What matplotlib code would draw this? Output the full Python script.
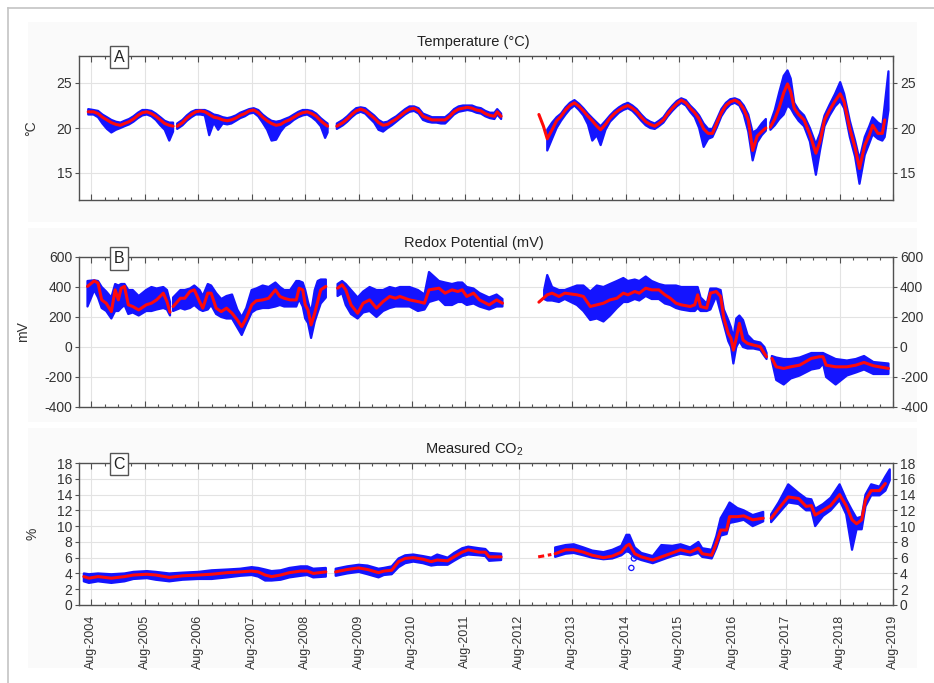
import numpy as np
import pandas as pd
import matplotlib
matplotlib.use("Agg")
import matplotlib.pyplot as plt
import matplotlib.dates as mdates
from matplotlib.patches import Rectangle
from matplotlib.lines import Line2D

plt.rcParams["font.family"] = ["Liberation Sans", "DejaVu Sans"]
plt.rcParams["mathtext.fontset"] = "custom"
plt.rcParams["mathtext.rm"] = "Liberation Sans"
plt.rcParams["axes.unicode_minus"] = False

# ---------------- Temperature (degC): smoothed curve and spread of raw readings
temp_dates = [
    "2004-07-10", "2004-08-15", "2004-09-15", "2004-10-15", "2004-11-15", "2004-12-15",
    "2005-01-15", "2005-02-15", "2005-03-15", "2005-04-15", "2005-05-15", "2005-06-15",
    "2005-07-15", "2005-08-15", "2005-09-15", "2005-10-15", "2005-11-15", "2005-12-15",
    "2006-01-15", "2006-02-10", "2006-02-25", "2006-03-10", "2006-04-15", "2006-05-15",
    "2006-06-15", "2006-07-15", "2006-08-15", "2006-09-15", "2006-10-15", "2006-11-15", "2006-12-15",
    "2007-01-15", "2007-02-15", "2007-03-15", "2007-04-15", "2007-05-15", "2007-06-15",
    "2007-07-15", "2007-08-15", "2007-09-15", "2007-10-15", "2007-11-15", "2007-12-15",
    "2008-01-15", "2008-02-15", "2008-03-15", "2008-04-15", "2008-05-15", "2008-06-15",
    "2008-07-15", "2008-08-15", "2008-09-15", "2008-10-15", "2008-11-15", "2008-12-15",
    "2009-01-01", "2009-02-10", "2009-03-05", "2009-04-15", "2009-05-15", "2009-06-15",
    "2009-07-15", "2009-08-15", "2009-09-15", "2009-10-15", "2009-11-15", "2009-12-15",
    "2010-01-15", "2010-02-15", "2010-03-15", "2010-04-15", "2010-05-15", "2010-06-15",
    "2010-07-15", "2010-08-15", "2010-09-15", "2010-10-15", "2010-11-15", "2010-12-15",
    "2011-01-15", "2011-02-15", "2011-03-15", "2011-04-15", "2011-05-15", "2011-06-15",
    "2011-07-15", "2011-08-15", "2011-09-15", "2011-10-15", "2011-11-15", "2011-12-15",
    "2012-01-15", "2012-02-15", "2012-03-05", "2012-04-01", "2012-06-01", "2012-12-15",
    "2013-01-15", "2013-02-10", "2013-03-15", "2013-04-15", "2013-05-15", "2013-06-15",
    "2013-07-15", "2013-08-15", "2013-09-15", "2013-10-15", "2013-11-15", "2013-12-15",
    "2014-01-15", "2014-02-10", "2014-03-15", "2014-04-15", "2014-05-15", "2014-06-15",
    "2014-07-15", "2014-08-15", "2014-09-15", "2014-10-15", "2014-11-15", "2014-12-15",
    "2015-01-15", "2015-02-15", "2015-03-15", "2015-04-15", "2015-05-15", "2015-06-15",
    "2015-07-15", "2015-08-15", "2015-09-15", "2015-10-15", "2015-11-15", "2015-12-15",
    "2016-01-15", "2016-02-15", "2016-03-15", "2016-04-15", "2016-05-15", "2016-06-15",
    "2016-07-15", "2016-08-15", "2016-09-15", "2016-10-15", "2016-11-15", "2016-12-15",
    "2017-01-15", "2017-02-15", "2017-03-15", "2017-04-01", "2017-04-15", "2017-05-15",
    "2017-06-15", "2017-07-15", "2017-08-10", "2017-09-01", "2017-09-25", "2017-10-25", "2017-12-01",
    "2018-01-10", "2018-02-20", "2018-03-20", "2018-04-20", "2018-05-25", "2018-07-01",
    "2018-08-05", "2018-09-01", "2018-10-10", "2018-11-15", "2018-12-15",
    "2019-01-20", "2019-02-20", "2019-03-15", "2019-04-20", "2019-05-20", "2019-06-05", "2019-07-01",
]
temp_smooth = [
    21.8, 21.8, 21.6, 21.2, 20.9, 20.6,
    20.4, 20.3, 20.5, 20.7, 21.0, 21.4,
    21.7, 21.8, 21.6, 21.3, 20.9, 20.5,
    20.3, 20.2, None, 20.2, 20.6, 21.1,
    21.5, 21.8, 21.9, 21.8, 21.5, 21.2, 21.1,
    20.9, 20.8, 20.9, 21.1, 21.4, 21.6,
    21.9, 22.0, 21.7, 21.2, 20.8, 20.5,
    20.3, 20.4, 20.7, 20.9, 21.2, 21.5,
    21.7, 21.8, 21.6, 21.3, 20.8, 20.4,
    20.2, None, 20.2, 20.6, 21.0, 21.5,
    21.9, 22.1, 21.9, 21.5, 21.1, 20.6,
    20.3, 20.4, 20.7, 21.0, 21.4, 21.8,
    22.1, 22.2, 21.9, 21.3, 21.1, 20.9,
    20.9, 20.9, 20.9, 21.3, 21.8, 22.1,
    22.2, 22.3, 22.2, 22.0, 21.9, 21.6,
    21.4, 21.3, 21.8, 21.3, None, 21.5,
    20.2, 18.8, 19.8, 20.8, 21.3, 22.0,
    22.5, 22.8, 22.4, 21.9, 21.3, 20.8,
    20.2, 19.8, 20.4, 21.1, 21.6, 22.0,
    22.3, 22.5, 22.2, 21.8, 21.2, 20.7,
    20.4, 20.2, 20.5, 20.9, 21.6, 22.2,
    22.7, 23.1, 22.8, 22.2, 21.7, 21.0,
    19.9, 19.4, 19.4, 20.6, 21.7, 22.5,
    22.9, 23.1, 22.8, 22.1, 20.9, 17.5,
    19.1, 19.6, 20.0, None, 20.1, 21.0,
    22.3, 23.9, 24.9, 24.0, 22.2, 21.5, 20.9,
    19.3, 17.2, 18.5, 20.9, 22.0, 23.0,
    23.8, 22.9, 19.9, 17.8, 15.5,
    18.1, 19.2, 20.3, 19.4, 19.4, 20.9, None,
]
temp_low = [
    21.5, 21.5, 21.2, 20.5, 19.9, 19.5,
    19.8, 20.0, 20.2, 20.4, 20.7, 21.1,
    21.4, 21.5, 21.3, 20.9, 20.3, 19.8,
    18.6, 19.6, None, 19.9, 20.3, 20.8,
    21.2, 21.5, 21.5, 21.4, 19.2, 20.6, 19.8,
    20.5, 20.4, 20.5, 20.8, 21.1, 21.3,
    21.6, 21.7, 21.3, 20.6, 19.8, 18.6,
    18.7, 19.6, 20.2, 20.5, 20.9, 21.2,
    21.4, 21.5, 21.2, 20.8, 20.2, 18.9,
    19.5, None, 19.9, 20.3, 20.7, 21.2,
    21.6, 21.8, 21.6, 21.1, 20.6, 19.8,
    19.6, 20.0, 20.3, 20.7, 21.1, 21.5,
    21.8, 21.9, 21.6, 20.9, 20.7, 20.6,
    20.6, 20.5, 20.5, 21.0, 21.5, 21.8,
    21.9, 22.0, 21.9, 21.7, 21.6, 21.3,
    21.1, 21.0, 21.5, 21.0, None, None,
    None, 17.5, 18.8, 20.0, 20.8, 21.5,
    22.1, 22.5, 22.0, 21.4, 20.4, 18.6,
    19.2, 18.1, 19.8, 20.7, 21.2, 21.7,
    22.0, 22.2, 21.9, 21.4, 20.8, 20.3,
    20.0, 19.9, 20.2, 20.6, 21.3, 21.9,
    22.4, 22.8, 22.5, 21.8, 21.2, 20.0,
    17.9, 18.8, 19.0, 20.1, 21.3, 22.1,
    22.6, 22.8, 22.5, 21.5, 19.6, 16.4,
    18.4, 19.2, 19.7, None, 19.8, 20.3,
    21.0, 21.5, 22.5, 22.2, 21.5, 20.8, 20.2,
    18.5, 14.8, 17.5, 20.2, 21.4, 22.4,
    23.0, 22.2, 19.0, 16.8, 13.8,
    17.0, 18.3, 19.3, 18.8, 18.6, 19.0, 22.0,
]
temp_high = [
    22.1, 22.0, 21.9, 21.5, 21.2, 20.9,
    20.7, 20.6, 20.8, 21.0, 21.3, 21.7,
    22.0, 22.0, 21.9, 21.6, 21.2, 20.8,
    20.6, 20.6, None, 20.5, 20.9, 21.4,
    21.8, 22.0, 22.0, 22.0, 21.8, 21.5, 21.4,
    21.2, 21.1, 21.2, 21.4, 21.7, 21.9,
    22.1, 22.2, 22.0, 21.5, 21.1, 20.8,
    20.7, 20.8, 21.0, 21.2, 21.5, 21.8,
    22.0, 22.0, 21.9, 21.6, 21.1, 20.7,
    20.5, None, 20.5, 20.9, 21.3, 21.8,
    22.2, 22.3, 22.2, 21.8, 21.4, 20.9,
    20.6, 20.7, 21.0, 21.3, 21.7, 22.1,
    22.4, 22.4, 22.2, 21.6, 21.4, 21.2,
    21.2, 21.2, 21.2, 21.6, 22.1, 22.4,
    22.5, 22.5, 22.5, 22.3, 22.2, 21.9,
    21.7, 21.7, 22.1, 21.6, None, None,
    None, 19.8, 20.6, 21.2, 21.6, 22.3,
    22.8, 23.1, 22.7, 22.2, 21.6, 21.1,
    20.6, 20.2, 20.8, 21.4, 21.9, 22.3,
    22.6, 22.8, 22.5, 22.1, 21.5, 21.0,
    20.7, 20.5, 20.8, 21.2, 21.9, 22.5,
    23.0, 23.3, 23.1, 22.5, 22.0, 21.4,
    20.5, 19.9, 19.9, 21.0, 22.1, 22.8,
    23.2, 23.3, 23.1, 22.5, 21.5, 19.5,
    19.8, 20.5, 21.0, None, 20.6, 22.0,
    24.0, 25.8, 26.4, 25.5, 22.8, 22.0, 21.4,
    20.0, 18.2, 19.4, 21.4, 22.6, 23.8,
    25.1, 23.8, 20.8, 18.6, 16.5,
    19.0, 20.2, 21.2, 20.6, 20.3, 22.5, 26.3,
]

# ---------------- Redox potential (mV)
redox_dates = [
    "2004-07-05", "2004-08-20", "2004-09-15", "2004-10-10", "2004-11-10", "2004-12-15",
    "2005-01-10", "2005-02-01", "2005-02-20", "2005-03-15", "2005-04-10", "2005-05-10",
    "2005-06-20", "2005-08-10", "2005-09-15", "2005-10-20", "2005-12-05", "2005-12-30",
    "2006-01-20", "2006-02-01", "2006-02-10", "2006-04-01", "2006-05-01", "2006-06-05",
    "2006-07-05", "2006-08-10", "2006-09-01", "2006-10-05", "2006-10-28", "2006-12-01",
    "2007-01-05", "2007-02-10", "2007-03-20", "2007-04-25", "2007-05-25", "2007-06-25",
    "2007-08-01", "2007-09-01", "2007-10-15", "2007-11-25",
    "2008-01-10", "2008-02-10", "2008-03-10", "2008-04-20", "2008-06-01", "2008-06-20", "2008-07-15",
    "2008-08-01", "2008-08-20", "2008-09-10", "2008-10-05", "2008-10-25", "2008-11-15", "2008-12-20",
    "2009-01-25", "2009-03-10", "2009-04-10", "2009-05-05", "2009-06-10", "2009-07-25",
    "2009-09-01", "2009-10-15", "2009-12-01",
    "2010-01-15", "2010-03-01", "2010-04-10", "2010-05-10", "2010-07-15", "2010-09-10",
    "2010-10-25", "2010-11-25",
    "2011-02-01", "2011-03-15", "2011-05-01", "2011-06-10", "2011-07-10", "2011-08-10",
    "2011-09-25", "2011-11-05",
    "2012-01-10", "2012-03-01", "2012-04-10", "2012-06-01", "2012-12-15",
    "2013-01-20", "2013-02-10", "2013-03-15", "2013-05-01", "2013-06-10", "2013-09-01",
    "2013-10-15", "2013-12-01",
    "2014-01-15", "2014-03-01", "2014-04-15", "2014-06-01", "2014-07-15", "2014-08-15",
    "2014-10-01", "2014-11-01", "2014-12-15",
    "2015-01-25", "2015-03-15", "2015-04-25", "2015-06-01", "2015-07-10", "2015-08-15",
    "2015-10-15", "2015-11-15", "2015-12-05", "2015-12-25",
    "2016-02-05", "2016-03-01", "2016-04-10", "2016-05-10", "2016-06-01", "2016-07-01",
    "2016-07-20", "2016-08-05", "2016-08-25", "2016-09-15", "2016-10-10", "2016-11-10", "2016-12-20",
    "2017-02-05", "2017-03-05", "2017-03-20", "2017-04-05", "2017-04-25", "2017-05-25",
    "2017-07-15", "2017-09-01", "2017-11-01",
    "2018-01-20", "2018-03-15", "2018-04-10", "2018-05-01", "2018-07-05", "2018-09-20", "2018-11-20",
    "2019-01-15", "2019-03-20", "2019-07-01",
]
redox_smooth = [
    404, 441, 426, 314, 292, 236,
    381, 314, 392, 404, 281, 270,
    247, 281, 292, 314, 359, 303,
    232, None, 270, 325, 325, 370,
    381, 303, 259, 359, 359, 259,
    236, 259, 225, 180, 136, 191,
    281, 308, 314, 325,
    381, 337, 325, 314, 314, 392, 381,
    281, 247, 147, 225, 303, 381, 404,
    None, 392, 415, 381, 281, 225,
    292, 314, 259,
    303, 337, 325, 337, 314, 303,
    292, 381,
    392, 359, 381, 370, 381, 337,
    359, 314,
    281, 314, 292, None, 299,
    330, 348, 359, 337, 359, 348,
    337, 270,
    281, 292, 314, 325, 359, 348,
    370, 359, 392,
    381, 381, 348, 325, 292, 281,
    270, 281, 348, 270,
    259, 359, 370, 337, 191, 91,
    58, -21, 58, 158, 46, 24, 13,
    2, -43, -65, None, -76, -132,
    -143, -132, -121,
    -76, -65, -65, -121, -132, -132, -121,
    -103, -125, -143,
]
redox_low = [
    270, 380, 330, 260, 240, 190,
    240, 240, 260, 280, 220, 230,
    210, 240, 240, 250, 260, 250,
    210, None, 240, 260, 250, 260,
    280, 250, 240, 250, 280, 220,
    200, 190, 190, 130, 80, 150,
    230, 250, 260, 260,
    270, 280, 270, 270, 270, 320, 270,
    190, 160, 60, 170, 230, 290, 330,
    None, 340, 360, 280, 220, 190,
    230, 240, 200,
    240, 260, 270, 270, 270, 240,
    250, 300,
    320, 280, 280, 300, 300, 280,
    290, 270,
    250, 270, 270, None, None,
    320, 310, 310, 300, 320, 280,
    240, 180,
    190, 170, 210, 260, 300, 300,
    320, 310, 340,
    320, 320, 290, 280, 260, 250,
    240, 240, 260, 240,
    240, 250, 340, 230, 150, 40,
    0, -110, 0, 40, 0, -10, -10,
    -20, -60, -80, None, -90, -220,
    -250, -210, -190,
    -150, -140, -110, -200, -250, -190, -170,
    -150, -180, -180,
]
redox_high = [
    440, 445, 440, 400, 370, 330,
    420, 410, 420, 420, 380, 380,
    340, 380, 400, 390, 400, 380,
    300, None, 330, 380, 380, 390,
    410, 380, 340, 420, 410, 360,
    320, 340, 350, 250, 200, 260,
    380, 390, 410, 400,
    430, 400, 380, 380, 440, 440, 430,
    380, 300, 230, 380, 440, 450, 450,
    None, 420, 440, 420, 380, 330,
    370, 400, 380,
    380, 400, 390, 400, 400, 380,
    350, 500,
    440, 430, 420, 430, 430, 400,
    390, 360,
    330, 350, 320, None, None,
    380, 480, 400, 380, 380, 410,
    410, 370,
    410, 400, 420, 440, 460, 440,
    450, 440, 470,
    440, 420, 410, 410, 410, 400,
    400, 400, 400, 330,
    290, 390, 390, 380, 250, 180,
    130, 60, 190, 210, 180, 80, 40,
    30, 0, -40, None, -60, -70,
    -80, -80, -70,
    -40, -40, -40, -50, -80, -90, -80,
    -60, -100, -110,
]

# ---------------- Measured CO2 (%)
co2_dates = [
    "2004-06-10", "2004-07-15", "2004-09-15", "2004-12-15",
    "2005-03-15", "2005-05-15", "2005-08-15", "2005-10-15",
    "2006-01-15", "2006-04-15", "2006-08-01", "2006-11-01",
    "2007-02-15", "2007-05-15", "2007-08-01", "2007-09-15", "2007-11-01", "2007-12-15",
    "2008-02-15", "2008-04-15", "2008-07-01", "2008-08-15", "2008-09-25", "2008-12-20",
    "2009-01-25", "2009-02-25", "2009-05-15", "2009-08-01", "2009-10-01", "2009-12-15",
    "2010-01-20", "2010-03-15", "2010-05-01", "2010-06-15", "2010-08-10", "2010-10-15", "2010-12-10",
    "2011-01-20", "2011-04-01", "2011-05-15", "2011-07-10", "2011-08-20", "2011-11-01", "2011-12-15",
    "2012-01-10", "2012-04-01", "2012-06-01",
    "2013-04-05", "2013-06-15", "2013-08-10", "2013-10-15", "2013-12-15",
    "2014-03-01", "2014-05-01", "2014-07-01", "2014-08-05", "2014-08-25", "2014-10-01", "2014-11-15",
    "2015-02-01", "2015-04-01", "2015-06-15", "2015-08-10", "2015-10-15", "2015-12-10",
    "2016-01-05", "2016-03-10", "2016-04-10", "2016-05-10", "2016-06-20", "2016-07-10",
    "2016-09-01", "2016-10-15", "2016-12-15",
    "2017-02-25", "2017-03-25", "2017-04-20", "2017-06-10", "2017-08-15", "2017-10-25", "2017-12-15",
    "2018-01-20", "2018-02-15", "2018-04-10", "2018-06-01", "2018-08-01", "2018-09-15",
    "2018-10-25", "2018-11-25", "2018-12-30",
    "2019-01-25", "2019-03-05", "2019-05-01", "2019-06-10", "2019-07-10",
]
co2_smooth = [
    3.6, 3.4, 3.6, 3.4,
    3.6, 3.8, 3.9, 3.8,
    3.5, 3.7, 3.8, 3.9,
    4.1, 4.2, 4.3, 4.2, 3.8, 3.6,
    3.8, 4.1, 4.3, 4.3, 4.0, 4.2,
    None, 4.2, 4.5, 4.7, 4.5, 4.1,
    4.3, 4.4, 5.5, 5.9, 6.0, 5.8, 5.5,
    5.7, 5.6, 6.1, 6.7, 7.0, 6.7, 6.7,
    6.1, 6.1, None,
    6.5, 7.0, 7.0, 6.7, 6.3,
    6.0, 6.2, 6.7, 7.5, 7.7, 6.5, 6.1,
    5.7, 6.1, 6.6, 7.0, 6.7, 7.2,
    6.5, 6.3, 7.8, 9.5, 9.5, 11.2,
    11.2, 11.3, 10.8,
    11.0, None, 11.0, 12.2, 13.7, 13.5, 12.5,
    12.6, 11.4, 12.0, 12.6, 14.0, 12.6,
    10.8, 10.3, 10.8,
    13.3, 14.5, 14.5, 15.4, None,
]
co2_low = [
    3.0, 2.8, 3.0, 2.8,
    3.0, 3.3, 3.4, 3.2,
    3.0, 3.2, 3.3, 3.3,
    3.5, 3.7, 3.8, 3.6, 3.1, 3.1,
    3.2, 3.5, 3.7, 3.8, 3.5, 3.6,
    None, 3.7, 4.0, 4.2, 3.9, 3.5,
    3.8, 3.9, 4.8, 5.3, 5.5, 5.3, 5.0,
    5.1, 5.1, 5.6, 6.2, 6.4, 6.3, 6.2,
    5.6, 5.7, None,
    6.1, 6.5, 6.6, 6.3, 6.0,
    5.8, 5.9, 6.3, 6.8, 6.7, 6.0, 5.7,
    5.3, 5.7, 6.2, 6.5, 6.3, 6.6,
    6.1, 5.9, 7.2, 8.8, 9.0, 10.4,
    10.6, 10.8, 10.0,
    10.6, None, 10.5, 11.6, 13.0, 12.8, 12.0,
    12.0, 10.0, 11.3, 12.0, 13.3, 11.5,
    7.0, 9.6, 9.6,
    12.5, 13.9, 13.9, 14.5, 15.8,
]
co2_high = [
    4.0, 3.9, 4.0, 3.9,
    4.0, 4.2, 4.3, 4.2,
    4.0, 4.1, 4.2, 4.4,
    4.5, 4.6, 4.8, 4.7, 4.5, 4.3,
    4.4, 4.7, 4.9, 4.9, 4.6, 4.7,
    None, 4.6, 4.9, 5.1, 5.0, 4.6,
    4.7, 4.9, 5.9, 6.3, 6.4, 6.2, 6.0,
    6.4, 6.0, 6.6, 7.2, 7.4, 7.2, 7.1,
    6.6, 6.5, None,
    7.3, 7.6, 7.7, 7.3, 6.9,
    6.7, 7.0, 7.5, 8.9, 8.9, 7.3, 6.6,
    6.2, 7.6, 7.5, 7.7, 7.3, 8.0,
    7.2, 7.0, 8.7, 11.0, 12.3, 13.0,
    12.3, 12.0, 11.4,
    11.8, None, 11.5, 13.0, 15.3, 14.2, 13.5,
    13.4, 12.2, 12.8, 13.6, 15.3, 13.4,
    12.0, 11.0, 11.2,
    14.0, 15.3, 15.0, 16.3, 17.2,
]
# sparse readings across the 2012/2013 logger gap
co2_sparse_dates = ["2012-12-10", "2013-01-10", "2013-02-10", "2013-03-10"]
co2_sparse = [6.1, 6.2, 6.3, 6.4]
# isolated low readings
co2_outlier_dates = ["2014-09-08", "2014-09-25"]
co2_outliers = [4.7, 5.9]

# ---------------- axis settings
x_start, x_end = "2004-05-08", "2019-08-01"
titles = ["Temperature (\u00b0C)", "Redox Potential (mV)", "Measured CO$_\\mathregular{2}$"]
units = ["\u00b0C", "mV", "%"]
letters = ["A", "B", "C"]
y_limits = [(12, 28), (-400, 600), (0, 18)]
y_ticks = [[15, 20, 25], list(range(-400, 601, 200)), list(range(0, 19, 2))]


def as_values(seq):
    return np.array([np.nan if v is None else v for v in seq], dtype=float)


W, H = 934, 683
fig = plt.figure(figsize=(W / 100, H / 100), dpi=100)


def px_rect(x0, y0, x1, y1):
    return [x0 / W, 1 - y1 / H, (x1 - x0) / W, (y1 - y0) / H]


# faint panel backdrops and the outer frame
for (x0, y0, x1, y1) in [(28, 22, 917, 222), (28, 228, 917, 422), (28, 428, 917, 668)]:
    r = px_rect(x0, y0, x1, y1)
    fig.add_artist(Rectangle((r[0], r[1]), r[2], r[3], transform=fig.transFigure,
                             facecolor="#fafafa", edgecolor="none", zorder=-5))
fig.add_artist(Line2D([8 / W, 1], [1 - 8 / H, 1 - 8 / H], transform=fig.transFigure,
                      color="#c4c4c4", lw=1.2))
fig.add_artist(Line2D([8 / W, 8 / W], [0, 1 - 8 / H], transform=fig.transFigure,
                      color="#c4c4c4", lw=1.2))

axes_px = [(79, 56, 893, 200), (79, 257, 893, 407), (79, 463, 893, 605)]
ylabel_x = [-0.050, -0.060, -0.048]
series = [
    (temp_dates, temp_smooth, temp_low, temp_high),
    (redox_dates, redox_smooth, redox_low, redox_high),
    (co2_dates, co2_smooth, co2_low, co2_high),
]

blue = "#1414ff"
red = "#ff0a0a"

for i, (dates, smooth, low, high) in enumerate(series):
    assert len(dates) == len(smooth) == len(low) == len(high)
    ax = fig.add_axes(px_rect(*axes_px[i]))
    ax.set_facecolor("white")
    d = pd.to_datetime(dates)
    ax.fill_between(d, as_values(low), as_values(high), facecolor=blue, edgecolor=blue,
                    lw=1.6, zorder=2)
    ax.plot(d, as_values(smooth), color=red, lw=2.2, zorder=3, solid_capstyle="round")

    if i == 2:
        ax.plot(pd.to_datetime(co2_sparse_dates), co2_sparse, color=red, lw=2.2,
                ls=(0, (2.0, 1.2)), zorder=3)
        ax.scatter(pd.to_datetime(co2_outlier_dates), co2_outliers, s=14,
                   facecolors="none", edgecolors=blue, lw=0.9, zorder=2)

    ax.set_xlim(pd.Timestamp(x_start), pd.Timestamp(x_end))
    ax.set_ylim(*y_limits[i])
    ax.set_yticks(y_ticks[i])
    ax.xaxis.set_major_locator(mdates.MonthLocator(bymonth=8))
    ax.xaxis.set_minor_locator(mdates.MonthLocator(bymonth=[2, 5, 11]))
    ax.xaxis.set_major_formatter(mdates.DateFormatter("%b-%Y"))

    ax.grid(True, which="major", color="#e3e3e3", lw=0.8, zorder=0)
    ax.set_axisbelow(True)
    for sp in ax.spines.values():
        sp.set_color("#505050")
        sp.set_linewidth(1.0)

    ax.tick_params(axis="x", which="major", direction="in", top=True, bottom=True,
                   length=4, width=0.8, color="#505050", labelsize=9,
                   labelcolor="#333333", pad=7)
    ax.tick_params(axis="x", which="minor", direction="in", top=True, bottom=True,
                   length=2.5, width=0.8, color="#505050")
    ax.tick_params(axis="y", which="major", direction="out", left=True, right=True,
                   labelleft=True, labelright=True, length=3, width=0.8,
                   color="#505050", labelsize=10, labelcolor="#333333", pad=2)
    if i < 2:
        ax.tick_params(axis="x", labelbottom=False)
    else:
        for lab in ax.get_xticklabels():
            lab.set_rotation(90)

    ax.set_ylabel(units[i], fontsize=10, color="#333333")
    ax.yaxis.set_label_coords(ylabel_x[i], 0.5)
    ax.set_title(titles[i], fontsize=10.5, color="#222222", x=0.485, pad=7)
    ax.text(0.049, 0.99, letters[i], transform=ax.transAxes, ha="center", va="center",
            fontsize=11.5, color="#222222", zorder=6,
            bbox=dict(boxstyle="square,pad=0.22", facecolor="white", edgecolor="#555555", lw=1.0))

fig.savefig("out.png", dpi=100)
